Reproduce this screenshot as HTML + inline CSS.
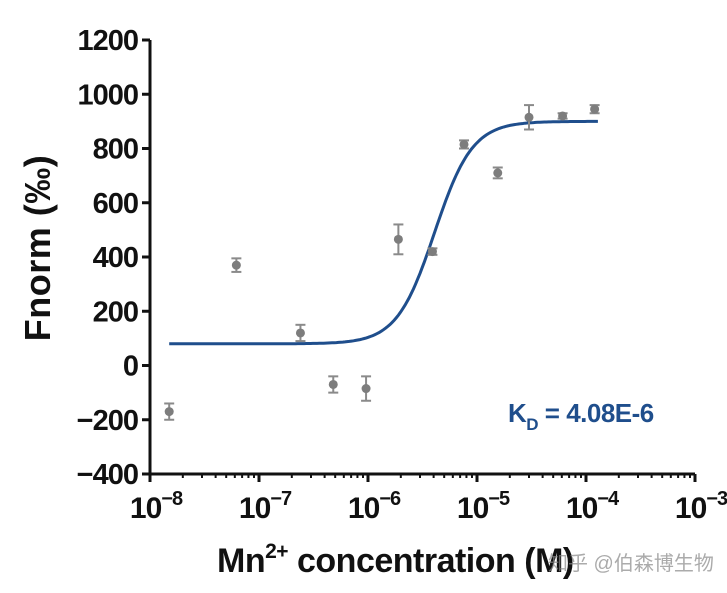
<!DOCTYPE html>
<html><head><meta charset="utf-8"><style>
html,body{margin:0;padding:0;background:#fff;}
svg{display:block;font-family:"Liberation Sans",Arial,sans-serif;}
</style></head><body>
<svg id="chart" width="727" height="593" viewBox="0 0 727 593" xmlns="http://www.w3.org/2000/svg">
<g id="axes"></g>
<g id="marks"></g>
<text transform="translate(50,248) rotate(-90)" text-anchor="middle" font-size="36" font-weight="bold" fill="#111" letter-spacing="0.5">Fnorm (‰)</text>
<text x="217" y="572" font-size="34" font-weight="bold" fill="#111" letter-spacing="-0.5">Mn<tspan dy="-14" font-size="21">2+</tspan><tspan dy="14"> concentration (M)</tspan></text>
<text x="548" y="570" font-size="20" fill="#888" opacity="0.7" font-family="'Liberation Sans','Noto Sans CJK SC',sans-serif">知乎 @伯森博生物</text>
<text x="508" y="422" font-size="26" font-weight="bold" fill="#1f4e8c" letter-spacing="-0.5">K<tspan dy="8" font-size="17">D</tspan><tspan dy="-8"> = 4.08E-6</tspan></text>
</svg>
<script>
const concentrations=[1.5e-8,6.2e-8,2.4e-7,4.8e-7,9.6e-7,1.9e-6,3.9e-6,7.6e-6,1.55e-5,3.0e-5,6.1e-5,1.2e-4];
const fnormValues=[-170,370,120,-70,-85,465,420,815,710,915,920,945];
const errorValues=[30,25,30,30,45,55,12,15,20,45,10,15];
const yTicks=[-400,-200,0,200,400,600,800,1000,1200];
const xTickExps=[-8,-7,-6,-5,-4,-3];
const fitBottom=80, fitTop=900, fitKd=4.08e-6, fitHill=2.5;

const NS="http://www.w3.org/2000/svg";
const X0=150, DEC=109, Y0=365.5, YS=434/1600;
function xs(c){return X0+(Math.log10(c)+8)*DEC;}
function ys(v){return Y0-v*YS;}
function mk(tag,attrs,parent){const e=document.createElementNS(NS,tag);for(const k in attrs)e.setAttribute(k,attrs[k]);parent.appendChild(e);return e;}
const axes=document.getElementById('axes'), marks=document.getElementById('marks');

let e=mk('line',{x1:X0,y1:ys(-400),x2:X0,y2:ys(1200),stroke:'#111','stroke-width':3},axes);


e=mk('line',{x1:X0-1.5,y1:ys(-400),x2:xs(1e-3),y2:ys(-400),stroke:'#111','stroke-width':3},axes);



yTicks.forEach(v=>{
  const t=mk('line',{x1:X0-8,y1:ys(v),x2:X0,y2:ys(v),stroke:'#111','stroke-width':3},axes);
  
  
  const l=mk('text',{x:X0-12,y:ys(v)+10,'text-anchor':'end','font-size':29,'font-weight':'bold',fill:'#111','letter-spacing':'-1'},axes);
  l.textContent=(v<0?'\u2212'+Math.abs(v):v);
  
  
});
xTickExps.forEach((p,i)=>{
  const x=xs(Math.pow(10,p));
  const t=mk('line',{x1:x,y1:ys(-400),x2:x,y2:ys(-400)+8,stroke:'#111','stroke-width':3},axes);
  
  
  if(i<xTickExps.length-1){for(let m=2;m<10;m++){const xm=xs(m*Math.pow(10,p));
    const mt=mk('line',{x1:xm,y1:ys(-400),x2:xm,y2:ys(-400)+4,stroke:'#111','stroke-width':2},axes);
    
    }}
  const l=mk('text',{x:x+6,y:518,'text-anchor':'middle','font-size':30,'font-weight':'bold',fill:'#111','letter-spacing':'-1'},axes);
  l.innerHTML='10<tspan dy="-13" font-size="20">\u2212'+Math.abs(p)+'</tspan>';
  
  
});

let d='';
const lo=Math.log10(concentrations[0]), hi=Math.log10(concentrations[concentrations.length-1])+0.03;
for(let i=0;i<=200;i++){const lc=lo+(hi-lo)*i/200, c=Math.pow(10,lc);
  const v=fitBottom+(fitTop-fitBottom)/(1+Math.pow(fitKd/c,fitHill));
  d+=(i?'L':'M')+xs(c).toFixed(1)+','+ys(v).toFixed(1);}
e=mk('path',{d:d,fill:'none',stroke:'#1f4e8c','stroke-width':3},marks);



concentrations.forEach((c,i)=>{
  const x=xs(c), y=ys(fnormValues[i]), y1=ys(fnormValues[i]+errorValues[i]), y2=ys(fnormValues[i]-errorValues[i]);
  const g=mk('g',{stroke:'#8a8a8a','stroke-width':2},marks);
  
  
  mk('line',{x1:x,y1:y1,x2:x,y2:y2},g);
  mk('line',{x1:x-5,y1:y1,x2:x+5,y2:y1},g);
  mk('line',{x1:x-5,y1:y2,x2:x+5,y2:y2},g);
  const p=mk('circle',{cx:x,cy:y,r:4.5,fill:'#7d7d7d'},marks);
  
  
});
</script>
</body></html>
